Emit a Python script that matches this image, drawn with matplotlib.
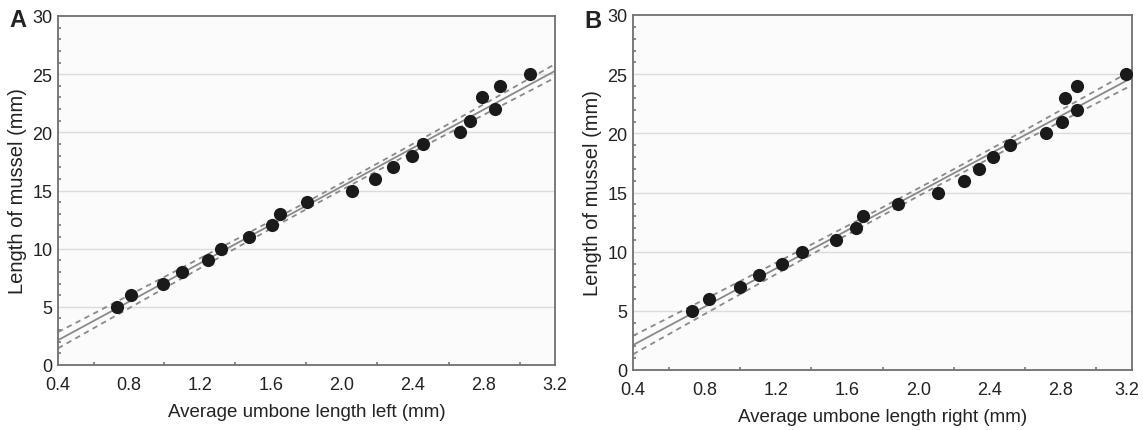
import numpy as np
import matplotlib
matplotlib.use("Agg")
import matplotlib.pyplot as plt
from matplotlib.ticker import MultipleLocator
from matplotlib.transforms import ScaledTranslation

plt.rcParams['font.family'] = ['Liberation Sans', 'DejaVu Sans']

# Panel A data
left_x = [0.733, 0.812, 0.993, 1.101, 1.243, 1.316, 1.474, 1.607, 1.649, 1.801,
          2.059, 2.184, 2.288, 2.394, 2.454, 2.663, 2.723, 2.788, 2.863, 2.888, 3.058]
left_y = [5, 6, 7, 8, 9, 10, 11, 12, 13, 14, 15, 16, 17, 18, 19, 20, 21, 23, 22, 24, 25]

# Panel B data
right_x = [0.729, 0.827, 0.998, 1.107, 1.238, 1.349, 1.538, 1.653, 1.690, 1.889,
           2.109, 2.260, 2.342, 2.419, 2.514, 2.717, 2.808, 2.824, 2.892, 2.892, 3.167]
right_y = [5, 6, 7, 8, 9, 10, 11, 12, 13, 14, 15, 16, 17, 18, 19, 20, 21, 23, 22, 24, 25]

x_ticks = [0.4, 0.8, 1.2, 1.6, 2.0, 2.4, 2.8, 3.2]
y_ticks = [0, 5, 10, 15, 20, 25, 30]
T_CRIT = 2.093  # t(0.975, df=19)

fig = plt.figure(figsize=(11.43, 4.31), dpi=100)
W, H = 1143, 431
ax_a = fig.add_axes([58 / W, 1 - 366 / H, (555 - 58) / W, (366 - 17) / H])
ax_b = fig.add_axes([633 / W, 1 - 371 / H, (1132 - 633) / W, (371 - 16) / H])


def panel(ax, xs, ys, xlabel, letter, letter_y):
    xs = np.asarray(xs, float)
    ys = np.asarray(ys, float)
    n = len(xs)
    slope, intercept = np.polyfit(xs, ys, 1)
    resid = ys - (slope * xs + intercept)
    s = np.sqrt(np.sum(resid ** 2) / (n - 2))
    xm = xs.mean()
    sxx = np.sum((xs - xm) ** 2)
    xx = np.linspace(0.4, 3.2, 200)
    yy = slope * xx + intercept
    se = s * np.sqrt(1 / n + (xx - xm) ** 2 / sxx)
    ax.set_facecolor('#fbfbfb')
    for v in y_ticks[1:-1]:
        ax.axhline(v, color='#dcdcdc', lw=1.0, zorder=0)
    ax.plot(xx, yy, color='#8a8a8a', lw=1.3, zorder=2)
    ax.plot(xx, yy + T_CRIT * se, color='#8a8a8a', lw=1.3, ls=(0, (3, 2.5)), zorder=2)
    ax.plot(xx, yy - T_CRIT * se, color='#8a8a8a', lw=1.3, ls=(0, (3, 2.5)), zorder=2)
    ax.scatter(xs, ys, s=90, color='#1a1a1a', zorder=3, linewidths=0)
    ax.set_xlim(0.4, 3.2)
    ax.set_ylim(0, 30)
    ax.set_xticks(x_ticks)
    ax.set_xticklabels([f"{v:.1f}" for v in x_ticks])
    ax.set_yticks(y_ticks)
    ax.set_yticklabels([str(v) for v in y_ticks])
    ax.xaxis.set_minor_locator(MultipleLocator(0.2))
    ax.yaxis.set_minor_locator(MultipleLocator(1))
    ax.tick_params(which='major', length=0, labelsize=13, colors='#222222')
    ax.tick_params(axis='x', which='major', pad=8)
    ax.tick_params(axis='y', which='major', pad=4)
    ax.tick_params(which='minor', direction='in', length=2.5, width=1.2, color='#777777')
    for sp in ax.spines.values():
        sp.set_color('#707070')
        sp.set_linewidth(1.3)
    ax.set_xlabel(xlabel, fontsize=13.5, color='#222222', labelpad=7)
    ax.set_ylabel('Length of mussel (mm)', fontsize=14.5, color='#222222', labelpad=4)
    ax.text(-0.097, letter_y, letter, transform=ax.transAxes, fontsize=17,
            fontweight='bold', ha='left', va='baseline', color='#222222')


panel(ax_a, left_x, left_y, 'Average umbone length left (mm)', 'A', 0.971)
panel(ax_b, right_x, right_y, 'Average umbone length right (mm)', 'B', 0.966)

# keep the last tick label of panel B inside the figure, as in the reference
last = ax_b.get_xticklabels()[-1]
last.set_transform(last.get_transform() + ScaledTranslation(-5 / 100, 0, fig.dpi_scale_trans))

fig.savefig('out.png', dpi=100, facecolor='white')
